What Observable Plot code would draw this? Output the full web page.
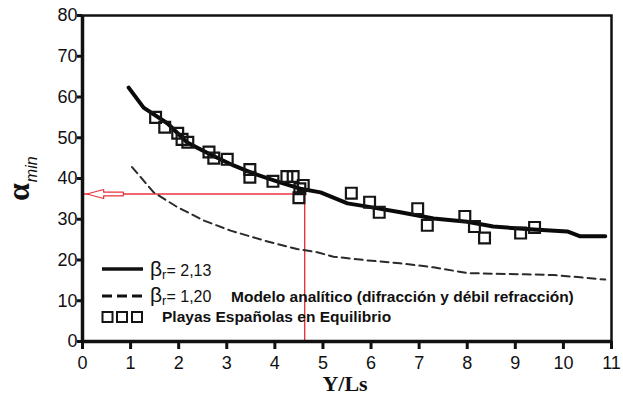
<!DOCTYPE html>
<html><head><meta charset="utf-8">
<script src="https://cdn.jsdelivr.net/npm/d3@7"></script>
<script src="https://cdn.jsdelivr.net/npm/@observablehq/plot@0.6"></script>
<style>body{margin:0;background:#fff}</style>
</head><body><div id="chart"></div>
<script>
// β_r = 2,13 (solid line)
const solidX = [0.96,1.27,1.77,2.18,2.66,3.14,3.56,4.12,4.53,4.95,5.51,5.93,6.61,7.30,8.00,8.54,9.38,10.08,10.35,10.87];
const solidY = [62.3,57.4,53.5,48.8,45.9,43.2,41.2,39.0,37.5,36.6,33.9,33.1,31.7,30.2,29.4,28.2,27.5,27.0,25.8,25.8];
// β_r = 1,20 (dashed line)
const dashX = [1.03,1.48,1.97,2.52,3.08,3.77,4.46,4.88,5.22,5.93,6.6,7.3,8.0,8.6,9.2,9.8,10.3,10.87];
const dashY = [42.8,36.6,33.0,29.7,27.2,24.8,22.7,21.9,20.8,19.9,19.2,18.2,16.8,16.6,16.5,16.3,15.8,15.2];
// Playas Españolas en Equilibrio (squares)
const sqX = [1.52,1.71,1.98,2.07,2.19,2.63,2.73,3.01,3.48,3.48,3.96,4.25,4.38,4.59,4.52,4.50,5.59,5.97,6.17,6.97,7.17,7.95,8.15,8.36,9.11,9.40];
const sqY = [55.0,52.6,51.1,49.6,48.9,46.5,45.0,44.7,42.2,40.3,39.3,40.5,40.5,38.3,37.5,35.3,36.4,34.2,31.7,32.6,28.5,30.7,28.2,25.4,26.6,28.0];
// axis ticks
const xTicks = [0,1,2,3,4,5,6,7,8,9,10,11];
const yTicks = [0,10,20,30,40,50,60,70,80];
// red reading annotation
const refAlpha = [36.2];
const refYLs = [4.62];

const solid = solidX.map((x,i)=>({x, y: solidY[i]}));
const dashed = dashX.map((x,i)=>({x, y: dashY[i]}));
const squares = sqX.map((x,i)=>({x, y: sqY[i]}));
const a = refAlpha[0];
const arrowPoly = [[0.09,a],[0.44,a+1.1],[0.44,a+0.45],[0.85,a+0.45],[0.85,a-0.45],[0.44,a-0.45],[0.44,a-1.1],[0.09,a]].map(([x,y])=>({x,y}));
const red = "#e8353b";

const plot = Plot.plot({
  width: 623, height: 405,
  marginLeft: 82, marginRight: 12, marginTop: 15, marginBottom: 64,
  x: {domain: [0, 11]},
  y: {domain: [0, 80]},
  style: {fontFamily: "'Liberation Sans', Arial, sans-serif", fontSize: "18px", color: "#111", background: "#fff", overflow: "visible"},
  marks: [
    Plot.ruleY(refAlpha, {x1: 0, x2: refYLs[0], stroke: red, strokeWidth: 1.4}),
    Plot.ruleX(refYLs, {y1: 0, y2: refAlpha[0], stroke: red, strokeWidth: 1.4}),
    Plot.line(arrowPoly, {x: "x", y: "y", stroke: red, strokeWidth: 1.2, fill: "#fff"}),
    Plot.line(dashed, {x: "x", y: "y", stroke: "#2a2a2a", strokeWidth: 2, strokeDasharray: "8,5"}),
    Plot.line(solid, {x: "x", y: "y", stroke: "#0a0a0a", strokeWidth: 4}),
    Plot.dot(squares, {x: "x", y: "y", symbol: "square", r: 6.1, stroke: "#151515", strokeWidth: 2.2, fill: "none"}),
    Plot.frame({stroke: "#111", strokeWidth: 2.5}),
    Plot.ruleX([0], {stroke: "#111", strokeWidth: 3.5}),
    Plot.ruleY([0], {stroke: "#111", strokeWidth: 3.5}),
    Plot.axisX({ticks: xTicks, tickSize: 8, tickPadding: 7, strokeWidth: 3, label: null, tickFormat: d => String(d)}),
    Plot.axisY({ticks: yTicks, tickSize: 5, tickPadding: 0, strokeWidth: 3, label: null})
  ]
});
document.getElementById("chart").appendChild(plot);

const svg = d3.select(plot);
// axis titles
const yl = svg.append("text").attr("transform", "translate(29,201) rotate(-90)").attr("text-anchor", "start").attr("fill", "#111");
yl.append("tspan").text("α").attr("font-family", "'Liberation Serif', serif").attr("font-weight", "bold").attr("font-size", 32);
yl.append("tspan").text("min").attr("font-family", "'Liberation Sans', Arial, sans-serif").attr("font-style", "italic").attr("font-size", 16).attr("dy", 8).attr("dx", 1);
svg.append("text").attr("x", 345).attr("y", 391).attr("text-anchor", "middle")
  .attr("font-family", "'Liberation Serif', serif").attr("font-weight", "bold").attr("font-size", 22).attr("fill", "#111").text("Y/Ls");

// legend
const lg = svg.append("g").attr("font-family", "'Liberation Sans', Arial, sans-serif").attr("text-anchor", "start").attr("fill", "#111");
lg.append("line").attr("x1", 102).attr("x2", 143).attr("y1", 269).attr("y2", 269).attr("stroke", "#111").attr("stroke-width", 3.5);
lg.append("line").attr("x1", 102).attr("x2", 143).attr("y1", 296).attr("y2", 296).attr("stroke", "#111").attr("stroke-width", 3).attr("stroke-dasharray", "10,5");
[107.5, 122, 137].forEach(cx => lg.append("rect").attr("x", cx - 5).attr("y", 312).attr("width", 10).attr("height", 10).attr("fill", "none").attr("stroke", "#151515").attr("stroke-width", 2));
function betaLabel(y, val) {
  const t = lg.append("text").attr("x", 150).attr("y", y);
  t.append("tspan").text("β").attr("font-size", 21);
  t.append("tspan").text("r").attr("font-size", 13).attr("dy", 3);
  t.append("tspan").text(val).attr("font-size", 16).attr("dy", -3);
  return t;
}
betaLabel(276, "= 2,13");
betaLabel(302, "= 1,20");
lg.append("text").attr("x", 231).attr("y", 302).attr("font-size", 15.5).attr("font-weight", "bold").text("Modelo analítico (difracción y débil refracción)");
lg.append("text").attr("x", 162).attr("y", 322).attr("font-size", 15.5).attr("font-weight", "bold").text("Playas Españolas en Equilibrio");
</script></body></html>
